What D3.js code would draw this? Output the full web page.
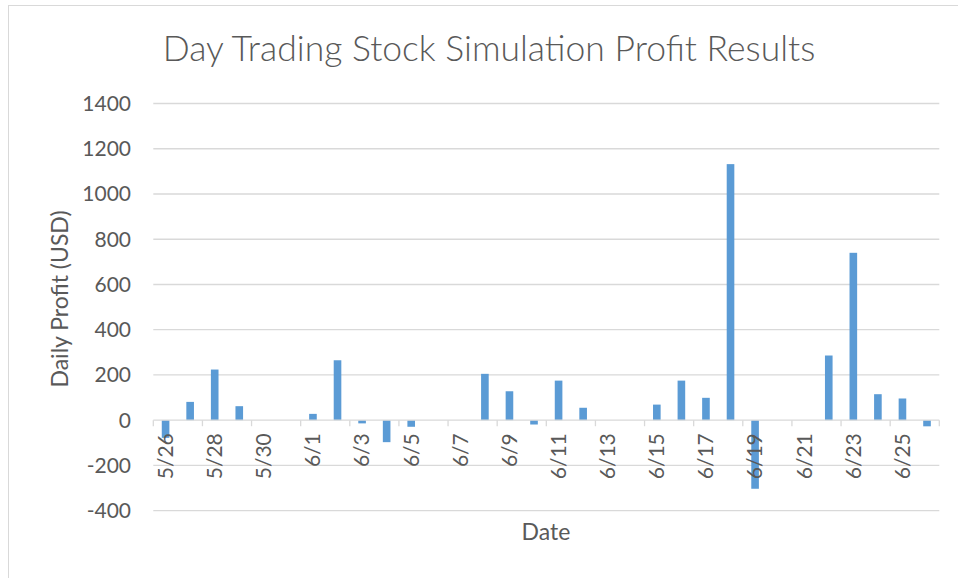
<!DOCTYPE html>
<html lang="en">
<head>
    <meta charset="UTF-8">
    <title>Day Trading Stock Simulation Profit Results</title>
    <script src="https://d3js.org/d3.v7.min.js"></script>
    <style>
        body { margin: 0; background: #fff; }
        svg text { font-family: Lato, "Open Sans", sans-serif; fill: #595959; }
        .title { font-size: 35.5px; font-weight: 300; }
        .tick-label { font-size: 21px; }
        .axis-title { font-size: 23px; }
    </style>
</head>
<body>
    <svg id="svg" width="958" height="578"></svg>
    <script>
        // Data
        const dates = ["5/26", "5/27", "5/28", "5/29", "5/30", "5/31",
            "6/1", "6/2", "6/3", "6/4", "6/5", "6/6", "6/7", "6/8", "6/9", "6/10",
            "6/11", "6/12", "6/13", "6/14", "6/15", "6/16", "6/17", "6/18", "6/19", "6/20",
            "6/21", "6/22", "6/23", "6/24", "6/25", "6/26"];
        const profits = [-78, 81, 224, 62, 0, 0,
            28, 265, -14, -97, -29, 0, 0, 205, 128, -19,
            175, 55, 0, 0, 69, 175, 99, 1132, -303, 0,
            0, 286, 740, 115, 96, -27];
        const yTicks = [-400, -200, 0, 200, 400, 600, 800, 1000, 1200, 1400];

        const width = 958, height = 578;
        const plot = { left: 153.3, right: 939.3, top: 103.5, bottom: 510.7 };

        const svg = d3.select("#svg");

        // outer chart border (only top and left fall inside the picture)
        svg.append("rect")
            .attr("x", 8.5).attr("y", 5.5)
            .attr("width", 1000).attr("height", 1000)
            .attr("fill", "none").attr("stroke", "#d9d9d9");

        const x = d3.scaleBand().domain(dates).range([plot.left, plot.right]).padding(0);
        const xBar = d3.scaleBand().domain(dates).range([plot.left, plot.right])
            .paddingInner(0.69).paddingOuter(0.345);
        const y = d3.scaleLinear().domain([-400, 1400]).range([plot.bottom, plot.top]);

        // gridlines
        svg.append("g").selectAll("line")
            .data(yTicks.filter(d => d !== 0))
            .join("line")
            .attr("x1", plot.left).attr("x2", plot.right)
            .attr("y1", d => y(d)).attr("y2", d => y(d))
            .attr("stroke", "#d9d9d9").attr("stroke-width", 1.3);

        // y tick labels
        svg.append("g").selectAll("text")
            .data(yTicks)
            .join("text")
            .attr("class", "tick-label")
            .attr("x", 131)
            .attr("y", d => y(d))
            .attr("dy", "0.35em")
            .attr("text-anchor", "end")
            .text(d => d);

        // bars
        svg.append("g").selectAll("rect")
            .data(dates.map((d, i) => ({ date: d, value: profits[i] })))
            .join("rect")
            .attr("x", d => xBar(d.date))
            .attr("width", xBar.bandwidth())
            .attr("y", d => y(Math.max(0, d.value)))
            .attr("height", d => Math.abs(y(d.value) - y(0)))
            .attr("fill", "#5b9bd5");

        // category axis at zero
        const axis = svg.append("g");
        axis.append("line")
            .attr("x1", plot.left).attr("x2", plot.right)
            .attr("y1", y(0)).attr("y2", y(0))
            .attr("stroke", "#d9d9d9").attr("stroke-width", 1.3);

        const tickPos = dates.filter((d, i) => i % 2 === 0).map(d => x(d)).concat([plot.right]);
        axis.selectAll(".tick")
            .data(tickPos)
            .join("line")
            .attr("class", "tick")
            .attr("x1", d => d).attr("x2", d => d)
            .attr("y1", y(0)).attr("y2", y(0) + 6)
            .attr("stroke", "#d9d9d9").attr("stroke-width", 1.3);

        axis.selectAll("text")
            .data(dates.filter((d, i) => i % 2 === 0))
            .join("text")
            .attr("class", "tick-label")
            .attr("text-anchor", "end")
            .attr("dy", "0.35em")
            .attr("transform", d => `translate(${x(d) + x.bandwidth() / 2},${y(0) + 13}) rotate(-90)`)
            .text(d => d);

        // titles
        svg.append("text")
            .attr("class", "title")
            .attr("x", 489).attr("y", 61)
            .attr("text-anchor", "middle")
            .text("Day Trading Stock Simulation Profit Results");

        svg.append("text")
            .attr("class", "axis-title")
            .attr("text-anchor", "middle")
            .attr("transform", "translate(68,299) rotate(-90)")
            .text("Daily Profit (USD)");

        svg.append("text")
            .attr("class", "axis-title")
            .attr("x", 546).attr("y", 540)
            .attr("text-anchor", "middle")
            .text("Date");
    </script>
</body>
</html>
